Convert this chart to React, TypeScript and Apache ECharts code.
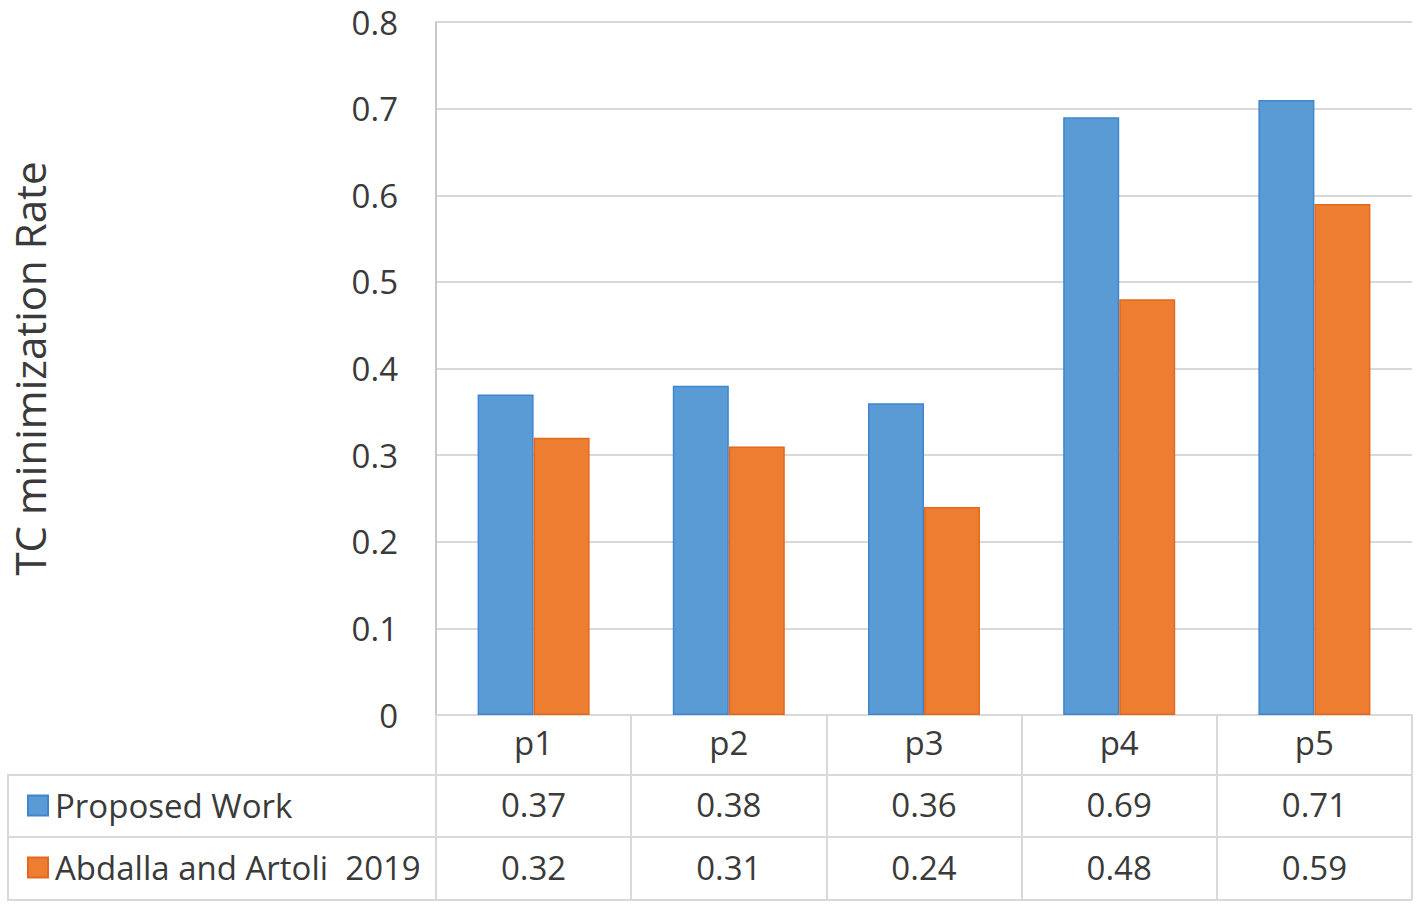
import React, { useEffect, useRef } from "react";
import * as echarts from "echarts";

const categories = ["p1", "p2", "p3", "p4", "p5"];
const proposedWork = [0.37, 0.38, 0.36, 0.69, 0.71];
const abdalla2019 = [0.32, 0.31, 0.24, 0.48, 0.59];
const seriesNames = ["Proposed Work", "Abdalla and Artoli  2019"];
const yTitle = "TC minimization Rate";

const FONT = "'Open Sans', 'Noto Sans', sans-serif";
const TEXT = "#3a3a3a";
const GRID = "#d9d9d9";
const BLUE = "#5B9BD5";
const ORANGE = "#ED7D31";

export default function App() {
  const ref = useRef<HTMLDivElement>(null);
  useEffect(() => {
    if (!ref.current) return;
    const chart = echarts.init(ref.current, undefined, { renderer: "svg" });
    const lineStyle = { color: GRID, width: 2 };
    const tableAxis = (offset: number, values: number[] | null, tickLen: number, margin: number) => ({
      type: "category",
      data: categories,
      position: "bottom",
      offset,
      axisLine: { show: true, lineStyle },
      axisTick: { show: true, length: tickLen, lineStyle },
      axisLabel: {
        show: true,
        fontFamily: FONT,
        fontSize: 33,
        color: TEXT,
        margin,
        verticalAlign: "middle",
        formatter: (v: string, i: number) => (values ? values[i].toFixed(2) : v),
      },
    });
    const legendText = { fontFamily: FONT, fontSize: 33, color: TEXT, padding: [0, 0, 0, 2] };
    chart.setOption({
      animation: false,
      backgroundColor: "#ffffff",
      grid: { left: 436, right: 6, top: 22, bottom: 193 },
      legend: [
        {
          data: [seriesNames[0]],
          left: 22,
          top: 784,
          icon: "rect",
          itemWidth: 20,
          itemHeight: 20,
          itemGap: 8,
          textStyle: legendText,
        },
        {
          data: [seriesNames[1]],
          left: 22,
          top: 846,
          icon: "rect",
          itemWidth: 20,
          itemHeight: 20,
          itemGap: 8,
          textStyle: legendText,
        },
      ],
      xAxis: [
        tableAxis(0, null, 60, 27),
        tableAxis(60, proposedWork, 62, 29),
        tableAxis(122, abdalla2019, 63, 30),
      ],
      yAxis: {
        type: "value",
        min: 0,
        max: 0.8,
        interval: 0.1,
        name: yTitle,
        nameLocation: "middle",
        nameGap: 386,
        nameTextStyle: { fontFamily: FONT, fontSize: 42, color: TEXT },
        axisLine: { show: true, lineStyle: { color: "#c8c8c8", width: 2 } },
        axisTick: { show: false },
        splitLine: { show: true, lineStyle },
        axisLabel: { fontFamily: FONT, fontSize: 33, color: TEXT, margin: 38, padding: [0, 0, 5, 0] },
      },
      series: [
        {
          name: seriesNames[0],
          type: "bar",
          data: proposedWork,
          barWidth: 56,
          barGap: "0%",
          itemStyle: { color: BLUE, borderColor: "#3F86CF", borderWidth: 1.5 },
        },
        {
          name: seriesNames[1],
          type: "bar",
          data: abdalla2019,
          barWidth: 56,
          barGap: "0%",
          itemStyle: { color: ORANGE, borderColor: "#E2691D", borderWidth: 1.5 },
        },
      ],
      graphic: [
        { type: "rect", shape: { x: 8, y: 775, width: 428, height: 125 }, style: { fill: "none", stroke: GRID, lineWidth: 2 } },
        { type: "line", shape: { x1: 8, y1: 837, x2: 436, y2: 837 }, style: { stroke: GRID, lineWidth: 2 } },
        { type: "line", shape: { x1: 436, y1: 900, x2: 1412, y2: 900 }, style: { stroke: GRID, lineWidth: 2 } },
      ],
    });
    return () => chart.dispose();
  }, []);
  return (
    <div
      ref={ref}
      style={{ position: "absolute", left: 0, top: 0, width: 1418, height: 908, background: "#fff" }}
    />
  );
}
